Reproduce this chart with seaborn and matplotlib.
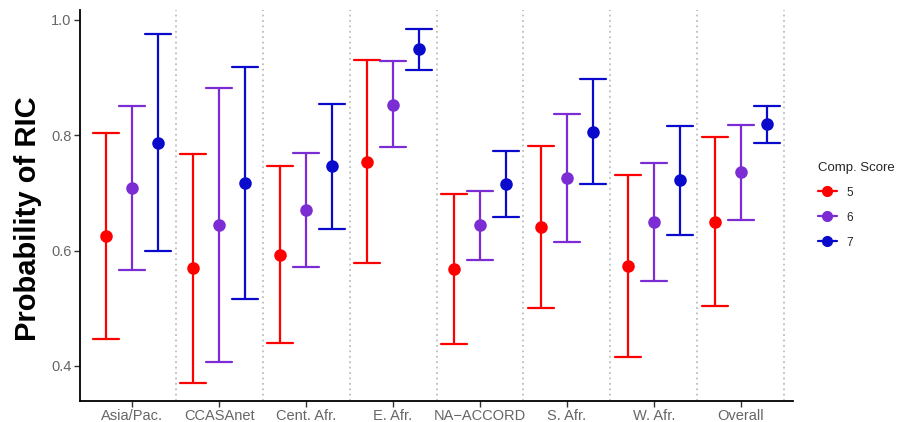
import pandas as pd
import matplotlib.pyplot as plt
import seaborn as sns
from matplotlib.lines import Line2D

regions = ["Asia/Pac.", "CCASAnet", "Cent. Afr.", "E. Afr.",
           "NA\u2212ACCORD", "S. Afr.", "W. Afr.", "Overall"]
scores = ["5", "6", "7"]

est5 = [0.626, 0.570, 0.593, 0.754, 0.568, 0.641, 0.574, 0.650]
lo5 = [0.447, 0.371, 0.440, 0.579, 0.438, 0.500, 0.416, 0.504]
hi5 = [0.804, 0.768, 0.747, 0.931, 0.698, 0.782, 0.731, 0.797]

est6 = [0.709, 0.645, 0.671, 0.853, 0.645, 0.726, 0.650, 0.737]
lo6 = [0.567, 0.407, 0.572, 0.780, 0.584, 0.615, 0.548, 0.653]
hi6 = [0.851, 0.882, 0.770, 0.929, 0.704, 0.837, 0.752, 0.818]

est7 = [0.787, 0.717, 0.747, 0.950, 0.716, 0.806, 0.723, 0.820]
lo7 = [0.600, 0.516, 0.638, 0.913, 0.659, 0.716, 0.628, 0.787]
hi7 = [0.976, 0.919, 0.854, 0.984, 0.773, 0.898, 0.816, 0.851]

colors = ["#FF0000", "#7B2CD3", "#0A0ACD"]

# long table: lower / estimate / upper per group, median = estimate, range = CI
rows = []
for s, est, lo, hi in zip(scores, [est5, est6, est7], [lo5, lo6, lo7], [hi5, hi6, hi7]):
    for r, e, l, h in zip(regions, est, lo, hi):
        for v in (l, e, h):
            rows.append({"region": r, "score": s, "value": v})
df = pd.DataFrame(rows)

sns.set_style("white")
plt.rcParams['font.family'] = ['Liberation Sans', 'DejaVu Sans']

fig = plt.figure(figsize=(9.07, 4.22), dpi=100)
ax = fig.add_axes([80 / 907, 1 - 400.6 / 422, 713 / 907, 391 / 422])

sns.pointplot(data=df, x="region", y="value", hue="score",
              order=regions, hue_order=scores, palette=colors,
              estimator="median", errorbar=lambda v: (v.min(), v.max()),
              dodge=0.6, linestyle="none", markers="o", markersize=7,
              capsize=0.3, err_kws={"linewidth": 1.6}, legend=False, ax=ax)

for i in range(len(regions)):
    ax.axvline(i + 0.5, color="#BDBDBD", linestyle=(0, (1, 2)), linewidth=1.3, zorder=0)

ax.set_xlim(-0.6, 7.6)
ax.set_ylim(0.34, 1.018)
ax.set_yticks([0.4, 0.6, 0.8, 1.0])
ax.set_yticklabels(["0.4", "0.6", "0.8", "1.0"])
ax.set_xlabel("")
ax.set_ylabel("Probability of RIC", fontsize=21, fontweight="bold", color="black")
ax.yaxis.set_label_coords(-0.053, 0.465)

sns.despine(ax=ax)
for side in ["left", "bottom"]:
    ax.spines[side].set_color("black")
    ax.spines[side].set_linewidth(1.3)
ax.tick_params(axis="both", which="major", length=4, width=1, color="#333333",
               labelsize=10.5, labelcolor="#666666", left=True, bottom=True, pad=2)

handles = [Line2D([0], [0], color=c, marker="o", markersize=7, linewidth=1.6) for c in colors]
leg = ax.legend(handles, scores, title="Comp. Score", loc="center left",
                bbox_to_anchor=(1.02, 0.5), frameon=False, fontsize=8.5,
                title_fontsize=9.5, handlelength=1.6, labelspacing=1.1)
leg._legend_box.align = "left"

fig.savefig("out.png", dpi=100)
